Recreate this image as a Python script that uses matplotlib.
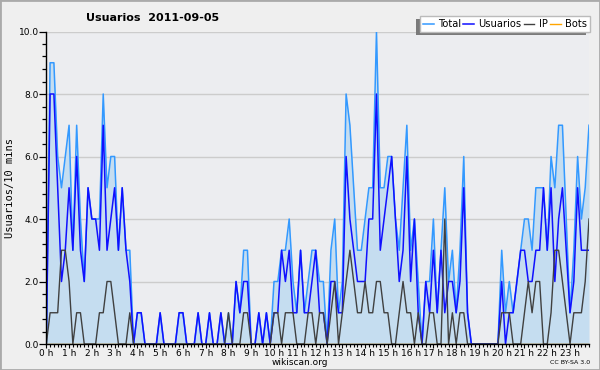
import matplotlib
matplotlib.use("Agg")
import matplotlib.pyplot as plt
from matplotlib.ticker import MultipleLocator, FixedLocator
from matplotlib.patches import Rectangle

title = "Usuarios  2011-09-05"
ylabel = "Usuarios/10 mins"
series_names = ["Total", "Usuarios", "IP", "Bots"]
hour_labels = [f"{h} h" for h in range(24)]

usuarios = [0, 8, 8, 5, 2, 3, 5, 3, 6, 3, 2, 5, 4, 4, 3, 7, 3, 4, 5, 3, 5, 3, 2, 0,
            1, 1, 0, 0, 0, 0, 1, 0, 0, 0, 0, 1, 1, 0, 0, 0, 1, 0, 0, 1, 0, 0, 1, 0,
            0, 0, 2, 1, 2, 2, 0, 0, 1, 0, 1, 0, 1, 1, 3, 2, 3, 1, 1, 3, 1, 1, 2, 3,
            1, 1, 0, 2, 2, 1, 1, 6, 4, 3, 2, 2, 2, 4, 4, 8, 3, 4, 5, 6, 4, 2, 3, 6,
            2, 4, 1, 0, 2, 1, 3, 1, 3, 1, 2, 2, 1, 2, 5, 1, 0, 0, 0, 0, 0, 0, 0, 0,
            2, 0, 1, 1, 2, 3, 3, 2, 2, 3, 3, 5, 3, 5, 2, 4, 5, 3, 1, 2, 5, 3, 3, 3]
ip = [0, 1, 1, 1, 3, 3, 2, 0, 1, 1, 0, 0, 0, 0, 1, 1, 2, 2, 1, 0, 0, 0, 1, 0,
      0, 0, 0, 0, 0, 0, 0, 0, 0, 0, 0, 0, 0, 0, 0, 0, 0, 0, 0, 0, 0, 0, 0, 0,
      1, 0, 0, 0, 1, 1, 0, 0, 0, 0, 0, 0, 1, 1, 0, 1, 1, 1, 0, 0, 0, 1, 1, 0,
      1, 1, 0, 1, 2, 0, 1, 2, 3, 2, 1, 1, 2, 1, 1, 2, 2, 1, 1, 0, 0, 1, 2, 1,
      1, 0, 1, 0, 0, 1, 1, 0, 0, 4, 0, 1, 0, 1, 1, 0, 0, 0, 0, 0, 0, 0, 0, 0,
      1, 1, 1, 0, 0, 0, 1, 2, 1, 2, 2, 0, 0, 1, 3, 3, 2, 1, 0, 1, 1, 1, 2, 4]
total = [0, 9, 9, 6, 5, 6, 7, 3, 7, 4, 2, 5, 4, 4, 4, 8, 5, 6, 6, 3, 5, 3, 3, 0,
         1, 1, 0, 0, 0, 0, 1, 0, 0, 0, 0, 1, 1, 0, 0, 0, 1, 0, 0, 1, 0, 0, 1, 0,
         1, 0, 2, 1, 3, 3, 0, 0, 1, 0, 1, 0, 2, 2, 3, 3, 4, 2, 1, 3, 1, 2, 3, 3,
         2, 2, 0, 3, 4, 1, 2, 8, 7, 5, 3, 3, 4, 5, 5, 10, 5, 5, 6, 6, 4, 3, 5, 7,
         3, 4, 2, 0, 2, 2, 4, 1, 3, 5, 2, 3, 1, 3, 6, 1, 0, 0, 0, 0, 0, 0, 0, 0,
         3, 1, 2, 1, 2, 3, 4, 4, 3, 5, 5, 5, 3, 6, 5, 7, 7, 4, 1, 3, 6, 4, 5, 7]
bots = [0] * 144

x = list(range(len(total)))

W, H = 600, 370
fig = plt.figure(figsize=(6, 3.7), dpi=100, facecolor="#efefef")
ax = fig.add_axes([46.3 / W, 1 - 344 / H, (589 - 46.3) / W, (344 - 31.5) / H])
ax.set_facecolor("#ecedf0")

ax.fill_between(x, total, 0, color="#c5ddf0", lw=0, zorder=1)
ax.plot(x, bots, color="#ffa500", lw=1, zorder=1.5, label=series_names[3])
ax.plot(x, total, color="#3399ff", lw=1.1, zorder=3, label=series_names[0])
ax.plot(x, usuarios, color="#1010ff", lw=1.1, zorder=4, label=series_names[1])
ax.plot(x, ip, color="#404040", lw=1.0, zorder=5, label=series_names[2])

ax.set_xlim(0, 143)
ax.set_ylim(0, 10)
ax.set_yticks([0, 2, 4, 6, 8, 10])
ax.set_yticklabels([f"{v:.1f}" for v in [0, 2, 4, 6, 8, 10]])
ax.yaxis.set_minor_locator(MultipleLocator(0.4))
ax.xaxis.set_major_locator(FixedLocator([6 * h for h in range(24)]))
ax.set_xticklabels(hour_labels)
ax.xaxis.set_minor_locator(MultipleLocator(1))
ax.grid(axis="y", color="#cccccc", lw=1, zorder=0)
ax.set_axisbelow(True)
ax.tick_params(axis="y", which="major", length=5, width=0.9, labelsize=6.5, pad=0.5)
ax.tick_params(axis="y", which="minor", length=3, width=0.9)
ax.tick_params(axis="x", which="major", length=3, width=0.8, labelsize=6.5, pad=0.3)
ax.tick_params(axis="x", which="minor", length=2.2, width=0.8)
for s in ["top", "right"]:
    ax.spines[s].set_visible(False)
for s in ["left", "bottom"]:
    ax.spines[s].set_color("black")
    ax.spines[s].set_linewidth(1)
    ax.spines[s].set_zorder(6)

fig.text(86 / W, 1 - 18.3 / H, title, fontsize=8, fontweight="bold", va="center", ha="left")
fig.text(10 / W, 1 - 188 / H, ylabel, rotation=90, fontsize=7.5, family="DejaVu Sans Mono",
         va="center", ha="center")
fig.text(300 / W, 1 - 362.5 / H, "wikiscan.org", fontsize=6.5, va="center", ha="center")
fig.text(590 / W, 1 - 363 / H, "CC BY-SA 3.0", fontsize=4.5, va="center", ha="right")

h = ax.get_legend_handles_labels()
order = [1, 2, 3, 0]
leg = fig.legend([h[0][i] for i in order], [h[1][i] for i in order], ncol=4,
                 loc="upper right", bbox_to_anchor=(590 / W, 1 - 16.3 / H),
                 fontsize=7.1, frameon=True, fancybox=False, edgecolor="#bbbbbb",
                 facecolor="white", framealpha=1, handlelength=1.1, handletextpad=0.45,
                 columnspacing=0.2, borderpad=0.3, borderaxespad=0)
leg.set_zorder(10)
leg.get_frame().set_linewidth(1)

fig.canvas.draw()
bb = leg.get_window_extent().transformed(fig.transFigure.inverted())
shadow = Rectangle((bb.x0 - 4 / W, bb.y0 - 3 / H), bb.width, bb.height,
                   transform=fig.transFigure, facecolor="#7a7a7a", edgecolor="none",
                   zorder=9)
fig.add_artist(shadow)

fig.patches.append(Rectangle((0, 0), 1, 1, transform=fig.transFigure, fill=False,
                             edgecolor="#aaaaaa", lw=2))

fig.savefig("out.png", dpi=100, facecolor=fig.get_facecolor())
